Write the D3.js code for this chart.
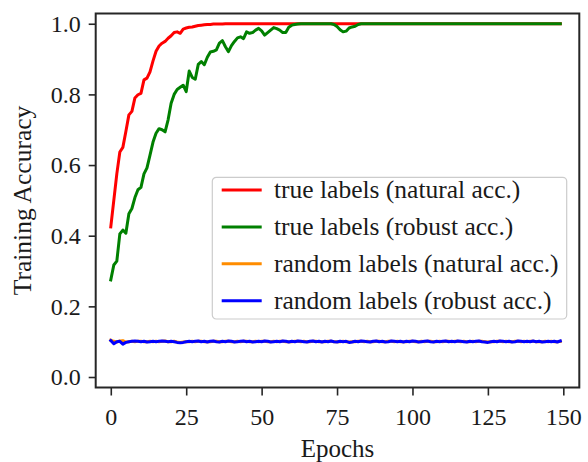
<!DOCTYPE html>
<html>

<head>
    <meta charset="utf-8">
    <title>Training Accuracy</title>
    <style>
        body {
            margin: 0;
            background: white;
        }

        svg {
            font-family: 'Liberation Serif', 'Times New Roman', serif;
            display: block;
        }

        /* d3 axes set their own sans-serif font, override it */
        g.tick text {
            fill: #1a1a1a;
            font-family: 'Liberation Serif', 'Times New Roman', serif;
        }
    </style>
</head>

<body>
    <figure style="margin:0"></figure>

    <script src="https://d3js.org/d3.v7.min.js"></script>

    <script>

        ////////////////////////////////////
        //////////////// Data //////////////
        ////////////////////////////////////

        const seriesNames = [
            'true labels (natural acc.)',
            'true labels (robust acc.)',
            'random labels (natural acc.)',
            'random labels (robust acc.)'
        ]
        const seriesColors = ['#ff0000', '#008000', '#ff8c00', '#0000ff']

        const xTicks = [0, 25, 50, 75, 100, 125, 150]
        const yTicks = [0.0, 0.2, 0.4, 0.6, 0.8, 1.0]

        // one value per epoch, epochs 0..149
        const trueNatural = [
            0.425, 0.500, 0.575, 0.637, 0.650, 0.695, 0.742, 0.752, 0.790, 0.799,
            0.803, 0.841, 0.846, 0.864, 0.895, 0.922, 0.937, 0.945, 0.950, 0.959,
            0.966, 0.975, 0.977, 0.973, 0.985, 0.988, 0.990, 0.991, 0.993, 0.995,
            0.996, 0.997, 0.998, 0.998, 0.999, 0.999, 0.999, 0.999, 1.000, 1.000,
            1.000, 1.000, 1.000, 1.000, 1.000, 1.000, 1.000, 1.000, 1.000, 1.000,
            1.000, 1.000, 1.000, 1.000, 1.000, 1.000, 1.000, 1.000, 1.000, 1.000,
            1.000, 1.000, 1.000, 1.000, 1.000, 1.000, 1.000, 1.000, 1.000, 1.000,
            1.000, 1.000, 1.000, 1.000, 1.000, 1.000, 1.000, 1.000, 1.000, 1.000,
            1.000, 1.000, 1.000, 1.000, 1.000, 1.000, 1.000, 1.000, 1.000, 1.000,
            1.000, 1.000, 1.000, 1.000, 1.000, 1.000, 1.000, 1.000, 1.000, 1.000,
            1.000, 1.000, 1.000, 1.000, 1.000, 1.000, 1.000, 1.000, 1.000, 1.000,
            1.000, 1.000, 1.000, 1.000, 1.000, 1.000, 1.000, 1.000, 1.000, 1.000,
            1.000, 1.000, 1.000, 1.000, 1.000, 1.000, 1.000, 1.000, 1.000, 1.000,
            1.000, 1.000, 1.000, 1.000, 1.000, 1.000, 1.000, 1.000, 1.000, 1.000,
            1.000, 1.000, 1.000, 1.000, 1.000, 1.000, 1.000, 1.000, 1.000, 1.000
        ]

        const trueRobust = [
            0.275, 0.317, 0.328, 0.405, 0.416, 0.407, 0.462, 0.477, 0.508, 0.530,
            0.537, 0.575, 0.592, 0.628, 0.665, 0.690, 0.703, 0.700, 0.694, 0.728,
            0.775, 0.800, 0.814, 0.820, 0.826, 0.808, 0.866, 0.848, 0.843, 0.885,
            0.893, 0.884, 0.905, 0.920, 0.922, 0.926, 0.945, 0.952, 0.935, 0.921,
            0.938, 0.950, 0.960, 0.963, 0.958, 0.977, 0.973, 0.975, 0.982, 0.987,
            0.980, 0.968, 0.975, 0.982, 0.989, 0.986, 0.982, 0.975, 0.975, 0.990,
            0.996, 0.998, 0.999, 1.000, 1.000, 1.000, 1.000, 1.000, 1.000, 1.000,
            1.000, 1.000, 1.000, 1.000, 0.998, 0.992, 0.983, 0.977, 0.979, 0.988,
            0.991, 0.993, 0.998, 1.000, 1.000, 1.000, 1.000, 1.000, 1.000, 1.000,
            1.000, 1.000, 1.000, 1.000, 1.000, 1.000, 1.000, 1.000, 1.000, 1.000,
            1.000, 1.000, 1.000, 1.000, 1.000, 1.000, 1.000, 1.000, 1.000, 1.000,
            1.000, 1.000, 1.000, 1.000, 1.000, 1.000, 1.000, 1.000, 1.000, 1.000,
            1.000, 1.000, 1.000, 1.000, 1.000, 1.000, 1.000, 1.000, 1.000, 1.000,
            1.000, 1.000, 1.000, 1.000, 1.000, 1.000, 1.000, 1.000, 1.000, 1.000,
            1.000, 1.000, 1.000, 1.000, 1.000, 1.000, 1.000, 1.000, 1.000, 1.000
        ]

        const randomNatural = [
            0.104, 0.101, 0.099, 0.102, 0.103, 0.099, 0.100, 0.101, 0.100, 0.101,
            0.101, 0.100, 0.100, 0.101, 0.100, 0.101, 0.100, 0.101, 0.102, 0.100,
            0.100, 0.101, 0.099, 0.098, 0.099, 0.100, 0.100, 0.101, 0.100, 0.101,
            0.101, 0.100, 0.100, 0.100, 0.101, 0.101, 0.100, 0.100, 0.101, 0.101,
            0.100, 0.100, 0.101, 0.100, 0.101, 0.101, 0.100, 0.100, 0.101, 0.100,
            0.101, 0.101, 0.100, 0.100, 0.101, 0.100, 0.101, 0.101, 0.100, 0.100,
            0.100, 0.101, 0.101, 0.100, 0.101, 0.100, 0.100, 0.101, 0.101, 0.100,
            0.100, 0.100, 0.101, 0.101, 0.100, 0.100, 0.100, 0.101, 0.100, 0.099,
            0.100, 0.100, 0.101, 0.101, 0.100, 0.101, 0.100, 0.100, 0.101, 0.101,
            0.100, 0.100, 0.101, 0.101, 0.100, 0.101, 0.100, 0.100, 0.100, 0.101,
            0.101, 0.100, 0.100, 0.101, 0.100, 0.101, 0.101, 0.100, 0.100, 0.101,
            0.100, 0.101, 0.101, 0.100, 0.101, 0.101, 0.100, 0.101, 0.100, 0.100,
            0.101, 0.100, 0.101, 0.101, 0.100, 0.099, 0.100, 0.100, 0.101, 0.101,
            0.100, 0.101, 0.100, 0.100, 0.101, 0.101, 0.100, 0.101, 0.100, 0.101,
            0.101, 0.100, 0.100, 0.100, 0.101, 0.100, 0.101, 0.100, 0.100, 0.101
        ]

        const randomRobust = [
            0.103, 0.094, 0.100, 0.101, 0.093, 0.098, 0.100, 0.101, 0.102, 0.101,
            0.100, 0.101, 0.099, 0.100, 0.101, 0.100, 0.101, 0.102, 0.101, 0.100,
            0.101, 0.100, 0.098, 0.097, 0.098, 0.100, 0.101, 0.100, 0.101, 0.102,
            0.100, 0.101, 0.099, 0.101, 0.102, 0.100, 0.099, 0.101, 0.100, 0.102,
            0.101, 0.099, 0.100, 0.101, 0.102, 0.100, 0.101, 0.099, 0.100, 0.101,
            0.100, 0.102, 0.101, 0.099, 0.100, 0.101, 0.100, 0.102, 0.101, 0.099,
            0.101, 0.100, 0.102, 0.101, 0.100, 0.099, 0.101, 0.102, 0.100, 0.101,
            0.099, 0.101, 0.100, 0.102, 0.100, 0.099, 0.101, 0.100, 0.101, 0.098,
            0.099, 0.101, 0.100, 0.102, 0.101, 0.100, 0.099, 0.101, 0.102, 0.100,
            0.101, 0.099, 0.100, 0.102, 0.101, 0.100, 0.101, 0.099, 0.101, 0.100,
            0.102, 0.101, 0.099, 0.100, 0.101, 0.102, 0.100, 0.099, 0.101, 0.100,
            0.101, 0.102, 0.100, 0.101, 0.100, 0.102, 0.101, 0.100, 0.099, 0.101,
            0.100, 0.101, 0.102, 0.100, 0.099, 0.098, 0.100, 0.101, 0.100, 0.102,
            0.101, 0.100, 0.101, 0.099, 0.100, 0.102, 0.101, 0.100, 0.101, 0.100,
            0.102, 0.100, 0.101, 0.099, 0.100, 0.101, 0.100, 0.101, 0.099, 0.102
        ]

        const allSeries = [trueNatural, trueRobust, randomNatural, randomRobust]

        ////////////////////////////////////
        ///////////// SVG Setup ////////////
        ////////////////////////////////////

        const width = 588
        const height = 462

        // plot frame in pixels
        const frame = { left: 95.7, right: 579.3, top: 13.5, bottom: 387.5 }

        const svg = d3.select('figure')
            .append('svg')
            .attr('width', width)
            .attr('height', height)

        ////////////////////////////////////
        /////////////// Scales /////////////
        ////////////////////////////////////

        const xScale = d3.scaleLinear()
            .domain([-5, 155.3])
            .range([frame.left, frame.right])

        const yScale = d3.scaleLinear()
            .domain([-0.0297, 1.029])
            .range([frame.bottom, frame.top])

        const axisColor = '#262626'

        const xAxis = svg.append('g')
            .attr('transform', 'translate(0,' + frame.bottom + ')')
            .call(d3.axisBottom(xScale).tickValues(xTicks).tickSize(8).tickPadding(12).tickFormat(d3.format('d')))

        const yAxis = svg.append('g')
            .attr('transform', 'translate(' + frame.left + ',0)')
            .call(d3.axisLeft(yScale).tickValues(yTicks).tickSize(7).tickPadding(8).tickFormat(d3.format('.1f')))

        svg.selectAll('.domain').remove()
        xAxis.attr('font-family', null)
        yAxis.attr('font-family', null)
        svg.selectAll('g.tick line')
            .attr('stroke', axisColor)
            .attr('stroke-width', 1.6)
        svg.selectAll('g.tick text')
            .attr('font-size', 24)

        // axis titles
        svg.append('text')
            .attr('x', (frame.left + frame.right) / 2)
            .attr('y', 457)
            .attr('text-anchor', 'middle')
            .attr('font-size', 25)
            .attr('fill', '#1a1a1a')
            .text('Epochs')

        svg.append('text')
            .attr('transform', 'translate(31,' + ((frame.top + frame.bottom) / 2) + ') rotate(-90)')
            .attr('text-anchor', 'middle')
            .attr('font-size', 25.5)
            .attr('fill', '#1a1a1a')
            .text('Training Accuracy')

        ////////////////////////////////////
        /////////////// Draw lines /////////
        ////////////////////////////////////

        const line = d3.line()
            .x(function (d, i) { return xScale(i); })
            .y(function (d) { return yScale(d); })

        svg.selectAll('path.series')
            .data(allSeries)
            .enter()
            .append('path')
            .attr('class', 'series')
            .attr('d', line)
            .attr('fill', 'none')
            .attr('stroke', function (d, i) { return seriesColors[i]; })
            .attr('stroke-width', 3)
            .attr('stroke-linejoin', 'round')
            .attr('stroke-linecap', 'square')

        // frame drawn on top of the lines
        svg.append('rect')
            .attr('x', frame.left)
            .attr('y', frame.top)
            .attr('width', frame.right - frame.left)
            .attr('height', frame.bottom - frame.top)
            .attr('fill', 'none')
            .attr('stroke', axisColor)
            .attr('stroke-width', 2)

        ////////////////////////////////////
        /////////////// Legend /////////////
        ////////////////////////////////////

        const legend = svg.append('g')
            .attr('transform', 'translate(212.3,177.3)')

        legend.append('rect')
            .attr('width', 354.4)
            .attr('height', 141.7)
            .attr('rx', 4)
            .attr('fill', 'white')
            .attr('fill-opacity', 0.85)
            .attr('stroke', '#cccccc')
            .attr('stroke-width', 1.2)

        const rows = legend.selectAll('g.row')
            .data(seriesNames)
            .enter()
            .append('g')
            .attr('class', 'row')
            .attr('transform', function (d, i) { return 'translate(0,' + (12.7 + i * 36.9) + ')'; })

        rows.append('line')
            .attr('x1', 9.4)
            .attr('x2', 49.4)
            .attr('stroke', function (d, i) { return seriesColors[i]; })
            .attr('stroke-width', 3)

        rows.append('text')
            .attr('x', 61.7)
            .attr('dy', '0.33em')
            .attr('font-size', 25.5)
            .attr('fill', '#1a1a1a')
            .text(function (d) { return d; })

    </script>
</body>

</html>
